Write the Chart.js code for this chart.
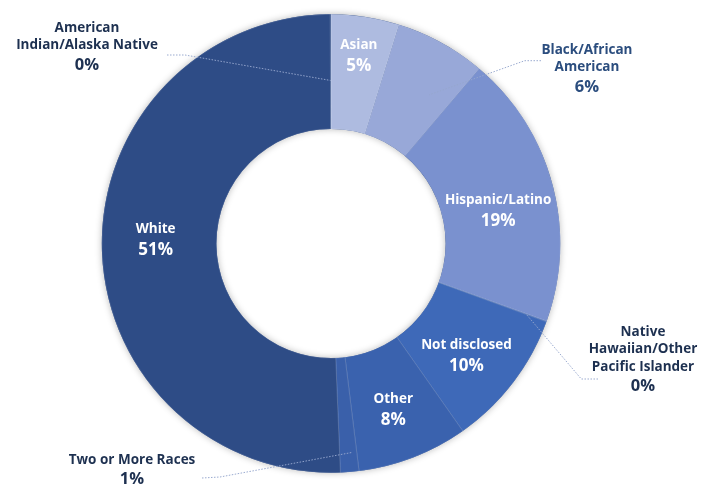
<!DOCTYPE html>
<html>
<head>
<meta charset="utf-8">
<script src="https://cdn.jsdelivr.net/npm/chart.js@4.4.1/dist/chart.umd.min.js"></script>
<style>
  html, body { margin: 0; padding: 0; background: #ffffff; }
  #wrap { width: 706px; height: 486px; position: relative; }
</style>
</head>
<body>
<div id="wrap"><canvas id="c" width="706" height="486"></canvas></div>
<script>
// ---- data ----
const categories = ["Asian", "Black/African American", "Hispanic/Latino", "Native Hawaiian/Other Pacific Islander", "Not disclosed", "Other", "Two or More Races", "White", "American Indian/Alaska Native"];
const shares = [4.8, 6.4, 19.3, 0.05, 9.7, 7.8, 1.3, 50.6, 0.05];
const shareLabels = ["5%", "6%", "19%", "0%", "10%", "8%", "1%", "51%", "0%"];
const sliceColors = ["#aebbe0", "#98a8d8", "#7a91cf", "#3e69b8", "#3e69b8", "#3a62ae", "#3a60aa", "#2e4c86", "#2e4c86"];

// ---- label layout (styles / positions of text only) ----
const insideLabels = {
  "Asian": { lines: ["Asian"], dx: 2, dy: -18 },
  "Hispanic/Latino": { lines: ["Hispanic/Latino"], dx: 1, dy: 11 },
  "White": { lines: ["White"], dx: -3.5, dy: -8 },
  "Not disclosed": { lines: ["Not disclosed"], dx: -1, dy: 8 },
  "Other": { lines: ["Other"], dx: 0.5, dy: 6 }
};
const outsideLabels = {
  "American Indian/Alaska Native": { lines: ["American", "Indian/Alaska Native"], x: 87, y: 28, color: "#1d3050",
    frac: 0.5, r: 163, path: [[167, 55], [185, 55]] },
  "Black/African American": { lines: ["Black/African", "American"], x: 587, y: 50, color: "#2b4d7e",
    frac: 0.7, r: 178, path: [[541, 60.7], [524.7, 60.7]] },
  "Native Hawaiian/Other Pacific Islander": { lines: ["Native", "Hawaiian/Other", "Pacific Islander"], x: 643, y: 332, color: "#1d3050",
    frac: 0.5, r: 207.5, path: [[598, 379], [581.3, 379]] },
  "Two or More Races": { lines: ["Two or More Races"], x: 132, y: 460, color: "#1d3050",
    frac: 0.27, r: 210, path: [[202, 478], [220, 477]] }
};
const FONT = "'Open Sans', Lato, sans-serif";

const ringShadow = {
  id: 'ringShadow',
  beforeDatasetsDraw(chart) {
    const meta = chart.getDatasetMeta(0);
    const a = meta.data[0];
    if (!a) return;
    const ctx = chart.ctx;
    ctx.save();
    ctx.beginPath();
    ctx.arc(a.x, a.y, a.outerRadius, 0, Math.PI * 2);
    ctx.arc(a.x, a.y, a.innerRadius, 0, Math.PI * 2, true);
    ctx.closePath();
    ctx.shadowColor = 'rgba(0,0,0,0.28)';
    ctx.shadowBlur = 7;
    ctx.fillStyle = '#2e4c86';
    ctx.fill();
    ctx.restore();
  }
};

const labelPlugin = {
  id: 'labelPlugin',
  afterDatasetsDraw(chart) {
    const ctx = chart.ctx;
    const meta = chart.getDatasetMeta(0);
    ctx.save();
    ctx.textAlign = 'center';
    ctx.textBaseline = 'middle';
    meta.data.forEach((arc, i) => {
      const cat = categories[i];
      const p = arc.getProps(['x', 'y', 'startAngle', 'endAngle', 'innerRadius', 'outerRadius'], true);
      if (insideLabels[cat]) {
        const L = insideLabels[cat];
        const mid = (p.startAngle + p.endAngle) / 2;
        const rr = (p.innerRadius + p.outerRadius) / 2;
        const cx = p.x + Math.cos(mid) * rr + L.dx;
        const cy = p.y + Math.sin(mid) * rr + L.dy;
        ctx.fillStyle = '#ffffff';
        ctx.font = "bold 13.5px " + FONT;
        ctx.fillText(L.lines[0], cx, cy - 10.5);
        ctx.font = "bold 17px " + FONT;
        ctx.fillText(shareLabels[i], cx, cy + 10.5);
      } else if (outsideLabels[cat]) {
        const L = outsideLabels[cat];
        const ang = p.startAngle + (p.endAngle - p.startAngle) * L.frac;
        const ex = p.x + Math.cos(ang) * L.r;
        const ey = p.y + Math.sin(ang) * L.r;
        // leader line
        ctx.save();
        ctx.strokeStyle = 'rgba(150,166,205,0.95)';
        ctx.lineWidth = 1;
        ctx.setLineDash([1.5, 1.5]);
        ctx.beginPath();
        ctx.moveTo(L.path[0][0], L.path[0][1]);
        for (let k = 1; k < L.path.length; k++) ctx.lineTo(L.path[k][0], L.path[k][1]);
        ctx.lineTo(ex, ey);
        ctx.stroke();
        ctx.restore();
        // text
        ctx.fillStyle = L.color;
        ctx.font = "bold 13.5px " + FONT;
        let y = L.y;
        L.lines.forEach((ln) => { ctx.fillText(ln, L.x, y); y += 17.5; });
        ctx.font = "bold 16.5px " + FONT;
        ctx.fillText(shareLabels[i], L.x, y + 2);
      }
    });
    ctx.restore();
  }
};

new Chart(document.getElementById('c'), {
  type: 'doughnut',
  data: {
    labels: categories,
    datasets: [{
      data: shares,
      backgroundColor: sliceColors,
      borderColor: 'rgba(255,255,255,0.22)',
      borderWidth: 0.6,
      hoverOffset: 0
    }]
  },
  options: {
    responsive: false,
    animation: false,
    cutout: '50%',
    layout: { padding: { top: 14, bottom: 13, left: 0, right: 44 } },
    plugins: { legend: { display: false }, tooltip: { enabled: false } }
  },
  plugins: [ringShadow, labelPlugin]
});
</script>
</body>
</html>
